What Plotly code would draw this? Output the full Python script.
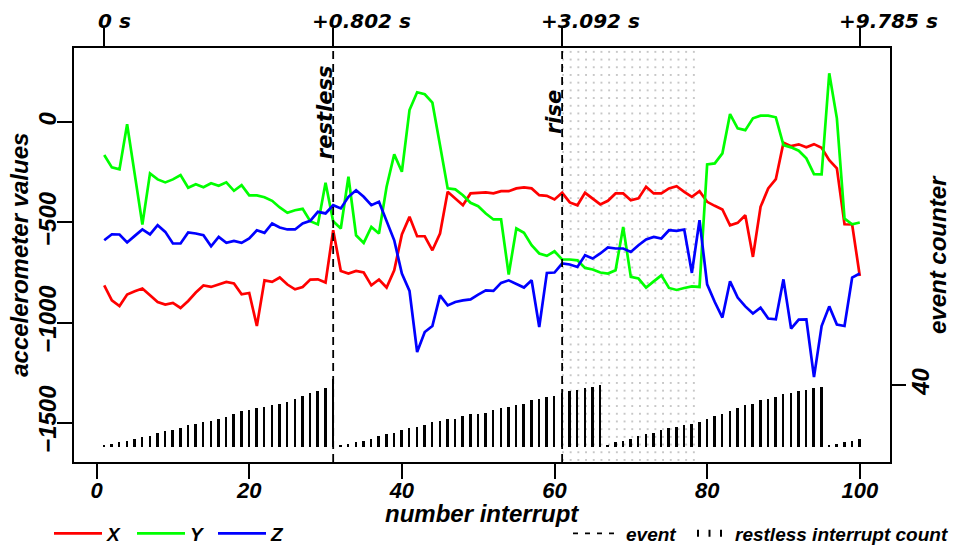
import plotly.graph_objects as go

# ---------------- data ----------------
interrupt_no = list(range(1, 101))

acc_x = [-814, -889, -917, -860, -844, -830, -864, -897, -910, -902,
         -927, -892, -850, -815, -822, -810, -797, -805, -859, -852,
         -1017, -789, -797, -775, -810, -834, -822, -785, -784, -800,
         -539, -742, -755, -742, -750, -814, -785, -825, -739, -560,
         -472, -569, -569, -639, -555, -347, -380, -414, -355, -352,
         -350, -355, -344, -344, -330, -325, -330, -364, -367, -385,
         -352, -400, -414, -352, -380, -410, -392, -355, -355, -389,
         -380, -322, -355, -355, -330, -319, -347, -372, -344, -397,
         -417, -435, -514, -502, -464, -672, -422, -330, -284, -102,
         -119, -110, -125, -109, -127, -189, -230, -509, -510, -767]

acc_y = [-163, -225, -235, -10, -260, -510, -255, -285, -300, -285,
         -263, -327, -309, -324, -304, -317, -300, -342, -314, -365,
         -365, -374, -392, -425, -452, -439, -432, -494, -510, -302,
         -494, -530, -272, -564, -602, -522, -555, -322, -160, -247,
         61, 150, 140, 98, -114, -330, -335, -364, -402, -419,
         -455, -485, -485, -760, -530, -552, -614, -655, -667, -644,
         -685, -685, -689, -727, -735, -750, -755, -739, -522, -772,
         -780, -825, -794, -764, -827, -837, -827, -819, -822, -210,
         -205, -155, 41, -30, -39, 20, 33, 33, 25, -114,
         -125, -142, -180, -259, -260, 245, 20, -480, -509, -500]

acc_z = [-589, -559, -560, -600, -567, -535, -560, -514, -547, -605,
         -605, -550, -555, -564, -619, -572, -602, -592, -602, -580,
         -539, -552, -505, -525, -535, -535, -505, -492, -447, -455,
         -414, -430, -372, -339, -372, -414, -397, -489, -589, -755,
         -842, -1147, -1047, -1017, -864, -914, -897, -889, -884, -860,
         -839, -842, -802, -789, -805, -825, -789, -1022, -752, -750,
         -705, -710, -722, -664, -680, -655, -625, -630, -630, -647,
         -614, -585, -572, -580, -539, -542, -535, -752, -489, -809,
         -897, -975, -794, -875, -919, -955, -925, -980, -984, -784,
         -1030, -985, -984, -1272, -1017, -919, -1010, -1017, -775, -755]

event_counter = [1, 2, 3, 4, 5, 6, 7, 9, 10, 11,
                 12, 14, 15, 16, 17, 18, 19, 21, 23, 24,
                 25, 26, 27, 28, 29, 31, 33, 35, 36, 38,
                 44, 1, 2, 3, 4, 5, 7, 8, 9, 11,
                 12, 13, 14, 16, 17, 18, 18, 20, 21, 21,
                 22, 24, 25, 26, 27, 28, 30, 31, 32, 33,
                 35, 36, 37, 38, 39, 40, 1, 3, 4, 5,
                 7, 8, 9, 11, 12, 13, 14, 15, 16, 18,
                 20, 21, 23, 25, 27, 28, 30, 31, 32, 34,
                 35, 36, 37, 38, 39, 1, 2, 3, 4, 5]

event_at = [31, 61]
event_names = ["restless", "rise"]
shade_span = [61, 79]

top_tick_vals = [1, 31, 61, 100]
top_tick_text = ["0 s", "+0.802 s", "+3.092 s", "+9.785 s"]
bottom_tick_vals = [0, 20, 40, 60, 80, 100]
left_tick_vals = [0, -500, -1000, -1500]
right_tick_vals = [40]

# ---------------- styling ----------------
W, H = 955, 547
X_RANGE = [-2.96, 103.96]
Y_RANGE = [-1696, 371]
Y2_RANGE = [-9.9, 258.5]

BOLD_IT = dict(weight="bold", style="italic", color="black")
AX_FONT = dict(family="Liberation Sans, Arial, sans-serif", size=24, **BOLD_IT)
XTICK_FONT = dict(family="Liberation Sans, Arial, sans-serif", size=22, **BOLD_IT)
TOP_FONT = dict(family="DejaVu Sans, sans-serif", size=20, **BOLD_IT)
LEG_FONT = dict(family="Liberation Sans, Arial, sans-serif", size=19, **BOLD_IT)
EV_FONT = dict(family="DejaVu Sans, sans-serif", size=21, **BOLD_IT)

fig = go.Figure()

# dotted shaded region
fig.add_trace(go.Scatter(
    x=[shade_span[0], shade_span[1], shade_span[1], shade_span[0], shade_span[0]],
    y=[Y_RANGE[0], Y_RANGE[0], Y_RANGE[1], Y_RANGE[1], Y_RANGE[0]],
    mode="lines", fill="toself", fillcolor="rgba(0,0,0,0)",
    fillpattern=dict(shape=".", fgcolor="#b4b4b4", bgcolor="rgba(0,0,0,0)",
                     size=7.7, solidity=0.05),
    line=dict(width=0), showlegend=False, hoverinfo="skip"))

for name, vals, col, lg in [("X", acc_x, "#ff0000", "legend"),
                            ("Y", acc_y, "#00ff00", "legend2"),
                            ("Z", acc_z, "#0000ff", "legend3")]:
    fig.add_trace(go.Scatter(x=interrupt_no, y=vals, mode="lines", name=name,
                             line=dict(color=col, width=2.7), legend=lg))

# counter bars on secondary axis
fig.add_trace(go.Bar(x=interrupt_no, y=event_counter, width=0.26,
                     marker=dict(color="black", line=dict(width=0)),
                     yaxis="y2", showlegend=False))

# legend-only entries
fig.add_trace(go.Scatter(x=[None], y=[None], mode="lines", name="event",
                         line=dict(color="black", width=1.6, dash="5px,7px"),
                         legend="legend4", xaxis="x2"))
fig.add_trace(go.Scatter(x=[None], y=[None], mode="lines",
                         name="restless interrupt count",
                         line=dict(color="black", width=7, dash="2px,9.5px"),
                         legend="legend5"))

# event lines + labels
for ex, en in zip(event_at, event_names):
    fig.add_shape(type="line", xref="x", yref="paper", x0=ex, x1=ex, y0=0, y1=1,
                  line=dict(color="black", width=1.8, dash="8px,5px"))
    fig.add_annotation(x=ex, y=49, xref="x", yref="y", text=en, textangle=-90,
                       showarrow=False, xanchor="center", yanchor="middle",
                       xshift=-7.5, font=EV_FONT)

PW, PH, ML, MB = 816, 414, 74, 85

# top time labels: left part of each label sits just left of its tick
for tv, tt in zip(top_tick_vals, top_tick_text):
    fig.add_annotation(x=tv, xref="x", yref="paper", y=1 + (48 - 21) / PH,
                       text=tt, showarrow=False, xanchor="left", yanchor="middle",
                       xshift=-8 if tt.startswith("0") else -23, font=TOP_FONT)

# axis titles
fig.add_annotation(xref="paper", yref="paper", x=(18.8 - ML) / PW, y=0.5,
                   text="accelerometer values", textangle=-90, showarrow=False,
                   xanchor="center", yanchor="middle", font=AX_FONT)
fig.add_annotation(xref="paper", yref="paper", x=(937 - ML) / PW, y=0.5,
                   text="event counter", textangle=-90, showarrow=False,
                   xanchor="center", yanchor="middle", font=AX_FONT)
fig.add_annotation(xref="paper", yref="paper", x=0.5, y=(462 - 513) / PH,
                   text="number interrupt", showarrow=False,
                   xanchor="center", yanchor="middle", font=AX_FONT)

LEG_PY = 533.5


def leg(px_left, itemwidth):
    return dict(xref="container", yref="container", x=px_left / W, y=1 - LEG_PY / H,
                xanchor="left", yanchor="middle",
                orientation="h", itemwidth=itemwidth, font=LEG_FONT,
                bgcolor="rgba(0,0,0,0)", borderwidth=0)


axis_common = dict(showgrid=False, zeroline=False, ticks="outside",
                   tickcolor="black", tickwidth=1.5, automargin=False)

fig.update_layout(
    template="none",
    width=W, height=H,
    margin=dict(l=ML, r=W - 890, t=48, b=MB, pad=0, autoexpand=False),
    paper_bgcolor="white", plot_bgcolor="white",
    showlegend=True,
    bargap=0,
    xaxis=dict(range=X_RANGE, tickvals=bottom_tick_vals, ticklen=15,
               showline=True, linecolor="black", linewidth=1.5, mirror=True,
               tickfont=XTICK_FONT, ticklabelstandoff=-7, **axis_common),
    xaxis2=dict(range=X_RANGE, overlaying="x", side="top", tickvals=top_tick_vals,
                ticktext=[""] * len(top_tick_vals), ticklen=19, showline=False,
                tickfont=TOP_FONT, **axis_common),
    yaxis=dict(range=Y_RANGE, tickvals=left_tick_vals, ticklen=15, tickangle=-90,
               showline=True, linecolor="black", linewidth=1.5, mirror=True,
               tickfont=AX_FONT, ticklabelstandoff=-8, **axis_common),
    yaxis2=dict(range=Y2_RANGE, overlaying="y", side="right",
                tickvals=right_tick_vals, ticklen=15, tickangle=-90,
                showline=False, tickfont=AX_FONT, ticklabelstandoff=-6,
                **axis_common),
    legend=leg(49, 48),
    legend2=leg(132, 48),
    legend3=leg(213, 48),
    legend4=leg(568, 48),
    legend5=leg(692, 33),
)

fig.write_html("out.html",
               config={"displayModeBar": False},
               post_script="document.body.style.margin='0px';"
                           "document.body.style.overflow='hidden';")
